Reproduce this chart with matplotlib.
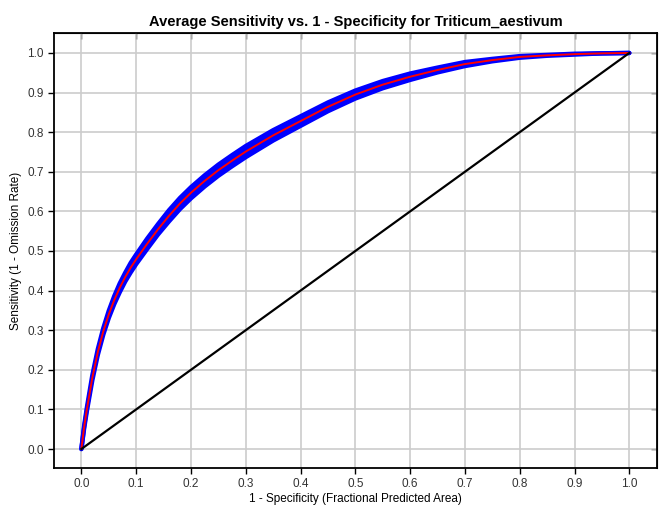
import numpy as np
import matplotlib
matplotlib.use('Agg')
import matplotlib.pyplot as plt

# mean ROC curve and its spread
fpr = [0, 0.005, 0.01, 0.02, 0.03, 0.04, 0.05, 0.06, 0.07, 0.08, 0.09, 0.1, 0.12, 0.14, 0.16,
       0.18, 0.2, 0.225, 0.25, 0.275, 0.3, 0.35, 0.4, 0.45, 0.5, 0.55, 0.6, 0.65, 0.7,
       0.75, 0.8, 0.85, 0.9, 0.95, 1.0]
sens = [0, 0.055, 0.1, 0.18, 0.245, 0.297, 0.34, 0.376, 0.407, 0.434, 0.458, 0.479, 0.518, 0.555, 0.589,
        0.62, 0.647, 0.677, 0.704, 0.728, 0.751, 0.792, 0.828, 0.864, 0.895, 0.92, 0.94, 0.957, 0.972,
        0.982, 0.99, 0.994, 0.997, 0.999, 1.0]
sensSD = [0, 0.003, 0.004, 0.006, 0.007, 0.008, 0.009, 0.01, 0.011, 0.011, 0.012, 0.012, 0.013, 0.013, 0.014,
          0.014, 0.014, 0.014, 0.014, 0.014, 0.014, 0.013, 0.012, 0.011, 0.01, 0.009, 0.008, 0.006, 0.005,
          0.003, 0.002, 0.001, 0.001, 0, 0]
ticks = [0.0, 0.1, 0.2, 0.3, 0.4, 0.5, 0.6, 0.7, 0.8, 0.9, 1.0]

plt.rcParams['font.family'] = ['Liberation Sans', 'DejaVu Sans']

fpr = np.array(fpr)
sens = np.array(sens)
sensSD = np.array(sensSD)

fig = plt.figure(figsize=(6.64, 5.11), dpi=100)
ax = fig.add_axes([0.0813, 0.0841, 0.9077, 0.851])

lo = sens - sensSD
hi = sens + sensSD
ax.fill_between(fpr, lo, hi, color='#0000ff', lw=0, zorder=3)
ax.plot(fpr, lo, color='#0000ff', lw=3.2, zorder=3, solid_capstyle='round', solid_joinstyle='round')
ax.plot(fpr, hi, color='#0000ff', lw=3.2, zorder=3, solid_capstyle='round', solid_joinstyle='round')
ax.plot(fpr, sens, color='#ff0000', lw=1.4, zorder=4, solid_joinstyle='round')
ax.plot([0, 1], [0, 1], color='black', lw=1.6, zorder=4)

ax.set_xlim(-0.05, 1.05)
ax.set_ylim(-0.048, 1.05)
ax.set_xticks(ticks)
ax.set_yticks(ticks)
ax.set_xticklabels(['%.1f' % t for t in ticks])
ax.set_yticklabels(['%.1f' % t for t in ticks])
ax.grid(True, color='#cccccc', lw=1.2, zorder=0)
ax.set_axisbelow(True)
for s in ax.spines.values():
    s.set_linewidth(1.3)
ax.tick_params(direction='out', length=4, width=1, labelsize=8.5, colors='black', labelcolor='#333333')

top = ax.secondary_xaxis('top')
top.set_xticks(ticks)
top.tick_params(direction='in', length=4, width=1, labeltop=False)
right = ax.secondary_yaxis('right')
right.set_yticks(ticks)
right.tick_params(direction='in', length=4, width=1, labelright=False)

ax.set_title('Average Sensitivity vs. 1 - Specificity for Triticum_aestivum',
             fontsize=10.5, fontweight='bold', pad=5)
ax.set_xlabel('1 - Specificity (Fractional Predicted Area)', fontsize=8.5, labelpad=2)
ax.set_ylabel('Sensitivity (1 - Omission Rate)', fontsize=8.5, labelpad=4)

plt.savefig('out.png', dpi=100)
